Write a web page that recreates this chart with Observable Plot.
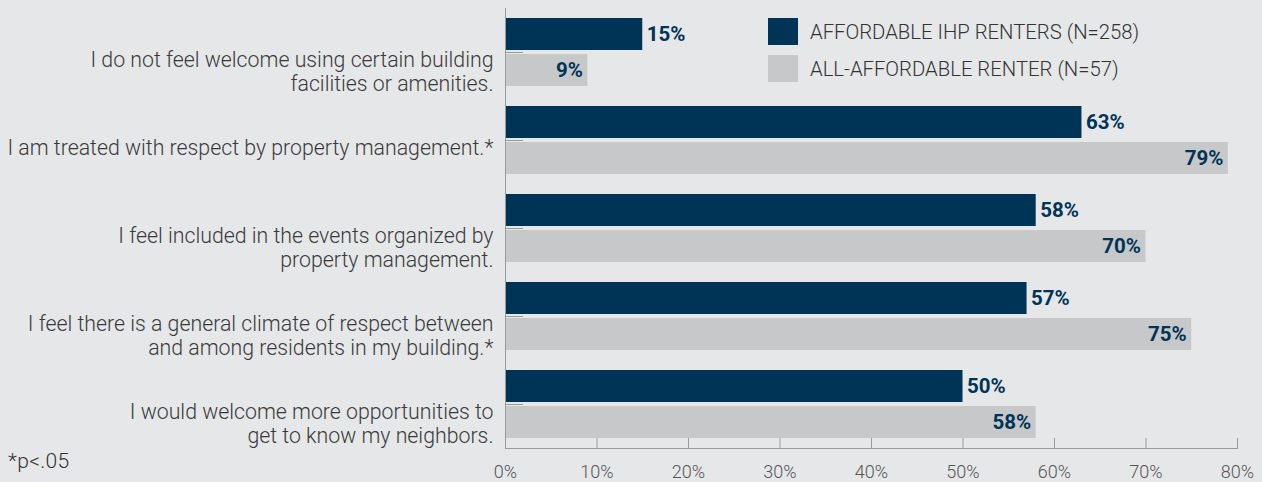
<!DOCTYPE html>
<html><head><meta charset="utf-8">
<script src="https://cdn.jsdelivr.net/npm/d3@7"></script>
<script src="https://cdn.jsdelivr.net/npm/@observablehq/plot@0.6"></script>
<style>
html,body{margin:0;padding:0;background:#e6e7e9;}
#wrap{position:relative;width:1262px;height:482px;overflow:hidden;}
#legend{position:absolute;left:768px;top:18px;font-family:Roboto,sans-serif;font-weight:300;font-size:20.3px;color:#333;}
.item{display:flex;align-items:center;height:27px;margin-bottom:10px;}
.sw{width:30px;height:27px;margin-right:12px;}
#foot{position:absolute;left:8px;top:449px;font-family:Roboto,sans-serif;font-weight:300;font-size:21px;color:#333;letter-spacing:0.3px;}
</style></head><body><div id="wrap"></div>
<script>
const categories = [
  "I do not feel welcome using certain building\nfacilities or amenities.",
  "I am treated with respect by property management.*",
  "I feel included in the events organized by\nproperty management.",
  "I feel there is a general climate of respect between\nand among residents in my building.*",
  "I would welcome more opportunities to\nget to know my neighbors."
];
const series = ["AFFORDABLE IHP RENTERS (N=258)", "ALL-AFFORDABLE RENTER (N=57)"];
const ihpValues = [15, 63, 58, 57, 50];
const allAffordableValues = [9, 79, 70, 75, 58];
const xTicks = [0, 10, 20, 30, 40, 50, 60, 70, 80];
const colors = ["#003457", "#c7c8ca"];
const footnote = "*p<.05";

const data = categories.flatMap((c, i) => [
  {category: c, series: series[0], value: ihpValues[i]},
  {category: c, series: series[1], value: allAffordableValues[i]}
]);

const navy = colors[0];
const chart = Plot.plot({
  width: 1262, height: 482,
  marginLeft: 505, marginRight: 25, marginTop: 8, marginBottom: 34,
  style: {background: "transparent", fontFamily: "Roboto, sans-serif", color: "#3a3a3a", overflow: "visible"},
  x: {domain: [0, 80]},
  y: {domain: series, paddingInner: 0.12, paddingOuter: 0.28, axis: null},
  fy: {domain: categories, padding: 0},
  color: {domain: series, range: colors},
  marks: [
    Plot.barX(data, {fy: "category", y: "series", x: "value", fill: "series"}),
    Plot.frame({anchor: "left", stroke: "#9a9a9a"}),
    Plot.frame({anchor: "bottom", facetAnchor: "bottom", stroke: "#9a9a9a"}),
    Plot.text(data.filter(d => d.series === series[0]), {
      fy: "category", y: "series", x: "value", text: d => d.value + "%",
      textAnchor: "start", dx: 4, fill: navy, fontWeight: 700, fontSize: 20.5
    }),
    Plot.text(data.filter(d => d.series === series[1]), {
      fy: "category", y: "series", x: "value", text: d => d.value + "%",
      textAnchor: "end", dx: -5, fill: navy, fontWeight: 700, fontSize: 20.5
    }),
    Plot.axisX({
      ticks: xTicks, tickFormat: d => d + "%", tickSize: -10, tickPadding: 27,
      stroke: "#9a9a9a", fill: "#555", fontSize: 18, fontWeight: 300, label: null
    }),
    Plot.axisFy({
      anchor: "left", tickSize: -18, tickFormat: () => "", stroke: "#9a9a9a", label: null
    }),
    Plot.axisFy({
      anchor: "left",
      tickSize: 0, tickPadding: 12, fill: "#3a3a3a", dy: -3,
      lineAnchor: "top", lineHeight: 1.13, fontSize: 21.3, fontWeight: 300, label: null
    })
  ]
});

const wrap = document.getElementById("wrap");
wrap.appendChild(chart);
const legend = document.createElement("div");
legend.id = "legend";
series.forEach((s, i) => {
  const it = document.createElement("div"); it.className = "item";
  const sw = document.createElement("div"); sw.className = "sw"; sw.style.background = colors[i];
  const tx = document.createElement("span"); tx.textContent = s;
  it.appendChild(sw); it.appendChild(tx); legend.appendChild(it);
});
wrap.appendChild(legend);
const foot = document.createElement("div");
foot.id = "foot"; foot.textContent = footnote;
wrap.appendChild(foot);
</script></body></html>
